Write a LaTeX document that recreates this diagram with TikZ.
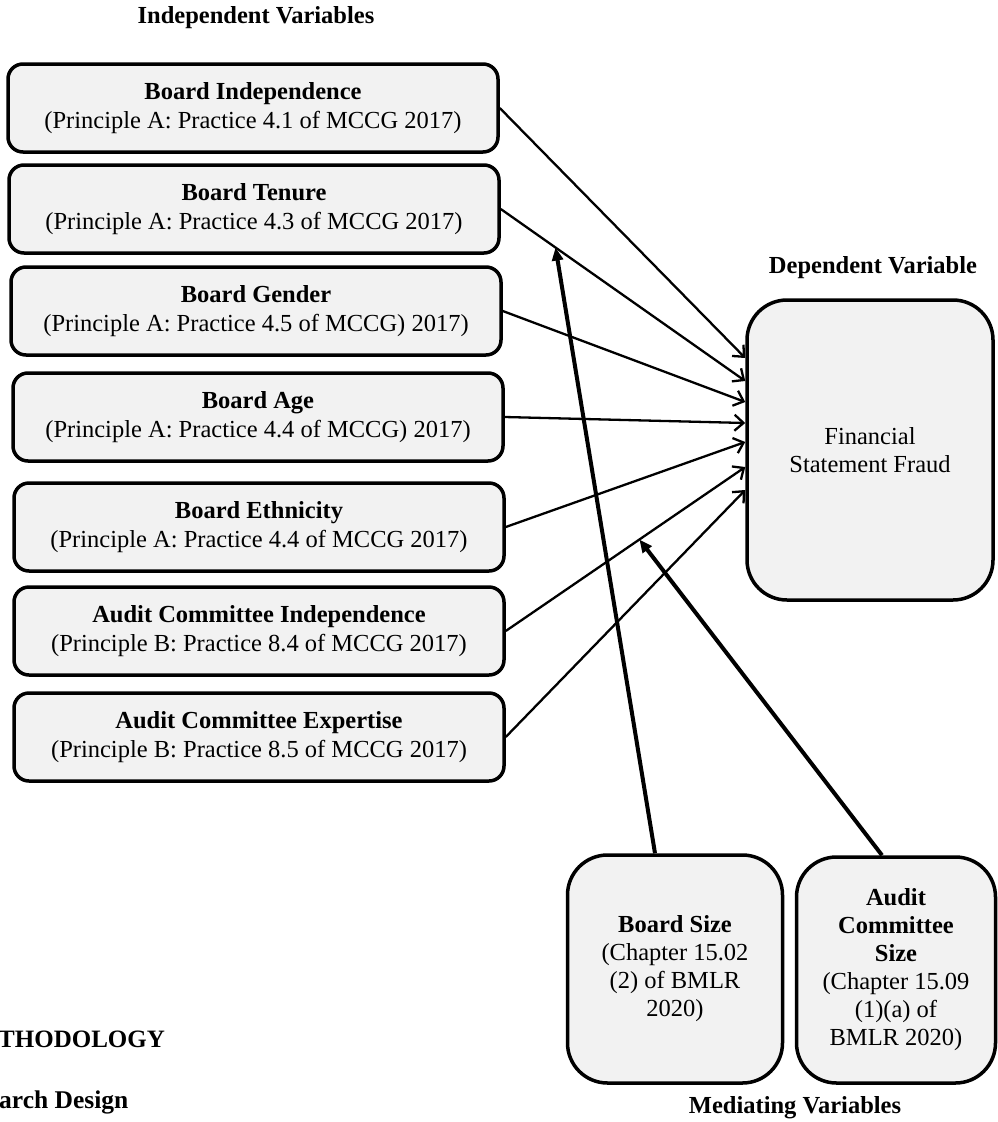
\documentclass[tikz,border=0pt]{standalone}
\usepackage{fontspec}
\setmainfont{Liberation Serif}
\usetikzlibrary{arrows.meta,calc}
\definecolor{boxgray}{HTML}{F2F2F2}

\begin{document}
\begin{tikzpicture}[x=1pt,y=-1pt,
    var/.style={draw,line width=3.5pt,fill=boxgray,align=center,inner sep=0pt,font=\fontsize{24.5}{29}\selectfont},
    ind/.style={var,rounded corners=15pt,minimum width=490pt,minimum height=88pt},
    head/.style={font=\fontsize{24.5}{29}\selectfont\bfseries},
    infl/.style={line width=2.3pt,-{Straight Barb[length=9pt,width=16pt]}},
    med/.style={line width=4pt,-{Triangle[length=13pt,width=11pt]}}]
    \useasboundingbox (0,0) rectangle (998,1122);
    \node[head] (ti) at (256,18) {Independent Variables};
    \node[head] (td) at (873,268) {Dependent Variable};
    \node[head] (tm) at (795,1108) {Mediating Variables};
    \node[ind] (b1) at (253,108) {\textbf{Board Independence}\\(Principle A: Practice 4.1 of MCCG 2017)};
    \node[ind] (b2) at (254,209) {\textbf{Board Tenure}\\(Principle A: Practice 4.3 of MCCG 2017)};
    \node[ind] (b3) at (256,311) {\textbf{Board Gender}\\(Principle A: Practice 4.5 of MCCG) 2017)};
    \node[ind] (b4) at (258,417) {\textbf{Board Age}\\(Principle A: Practice 4.4 of MCCG) 2017)};
    \node[ind] (b5) at (259,527) {\textbf{Board Ethnicity}\\(Principle A: Practice 4.4 of MCCG 2017)};
    \node[ind] (b6) at (259,631) {\textbf{Audit Committee Independence}\\(Principle B: Practice 8.4 of MCCG 2017)};
    \node[ind] (b7) at (259,737) {\textbf{Audit Committee Expertise}\\(Principle B: Practice 8.5 of MCCG 2017)};
    \node[var,rounded corners=40pt,minimum width=246pt,minimum height=300pt,font=\fontsize{24.5}{28}\selectfont] (dv) at (870,450) {Financial\\Statement Fraud};
    \node[var,rounded corners=40pt,minimum width=215pt,minimum height=228pt,font=\fontsize{24.5}{28}\selectfont] (ms) at (675,969) {\textbf{Board Size}\\(Chapter 15.02\\(2) of BMLR\\2020)};
    \node[var,rounded corners=40pt,minimum width=199pt,minimum height=226pt,font=\fontsize{24.5}{28}\selectfont] (ac) at (896,970) {\textbf{Audit}\\\textbf{Committee}\\\textbf{Size}\\(Chapter 15.09\\(1)(a) of\\BMLR 2020)};
    \node[head,font=\fontsize{25}{30}\selectfont\bfseries,anchor=west,inner sep=0pt] (me) at (-2,1039) {THODOLOGY};
    \node[head,font=\fontsize{25.5}{30}\selectfont\bfseries,anchor=west,inner sep=0pt] (rd) at (-1,1102) {arch Design};
    \foreach \i/\y in {1/358,2/381,3/402,4/423,5/442,6/467,7/490}
        \coordinate (e\i) at (dv.west |- 0,\y);
    \foreach \i in {1,...,7}
        \draw[infl] (b\i.east) -- (e\i);
    \draw[med] ([xshift=-20pt]ms.north) -- ($(b2.east)!0.224!(e2)$);
    \draw[med] ([xshift=-14pt]ac.north) -- ($(b6.east)!0.558!(e6)$);
\end{tikzpicture}
\end{document}
